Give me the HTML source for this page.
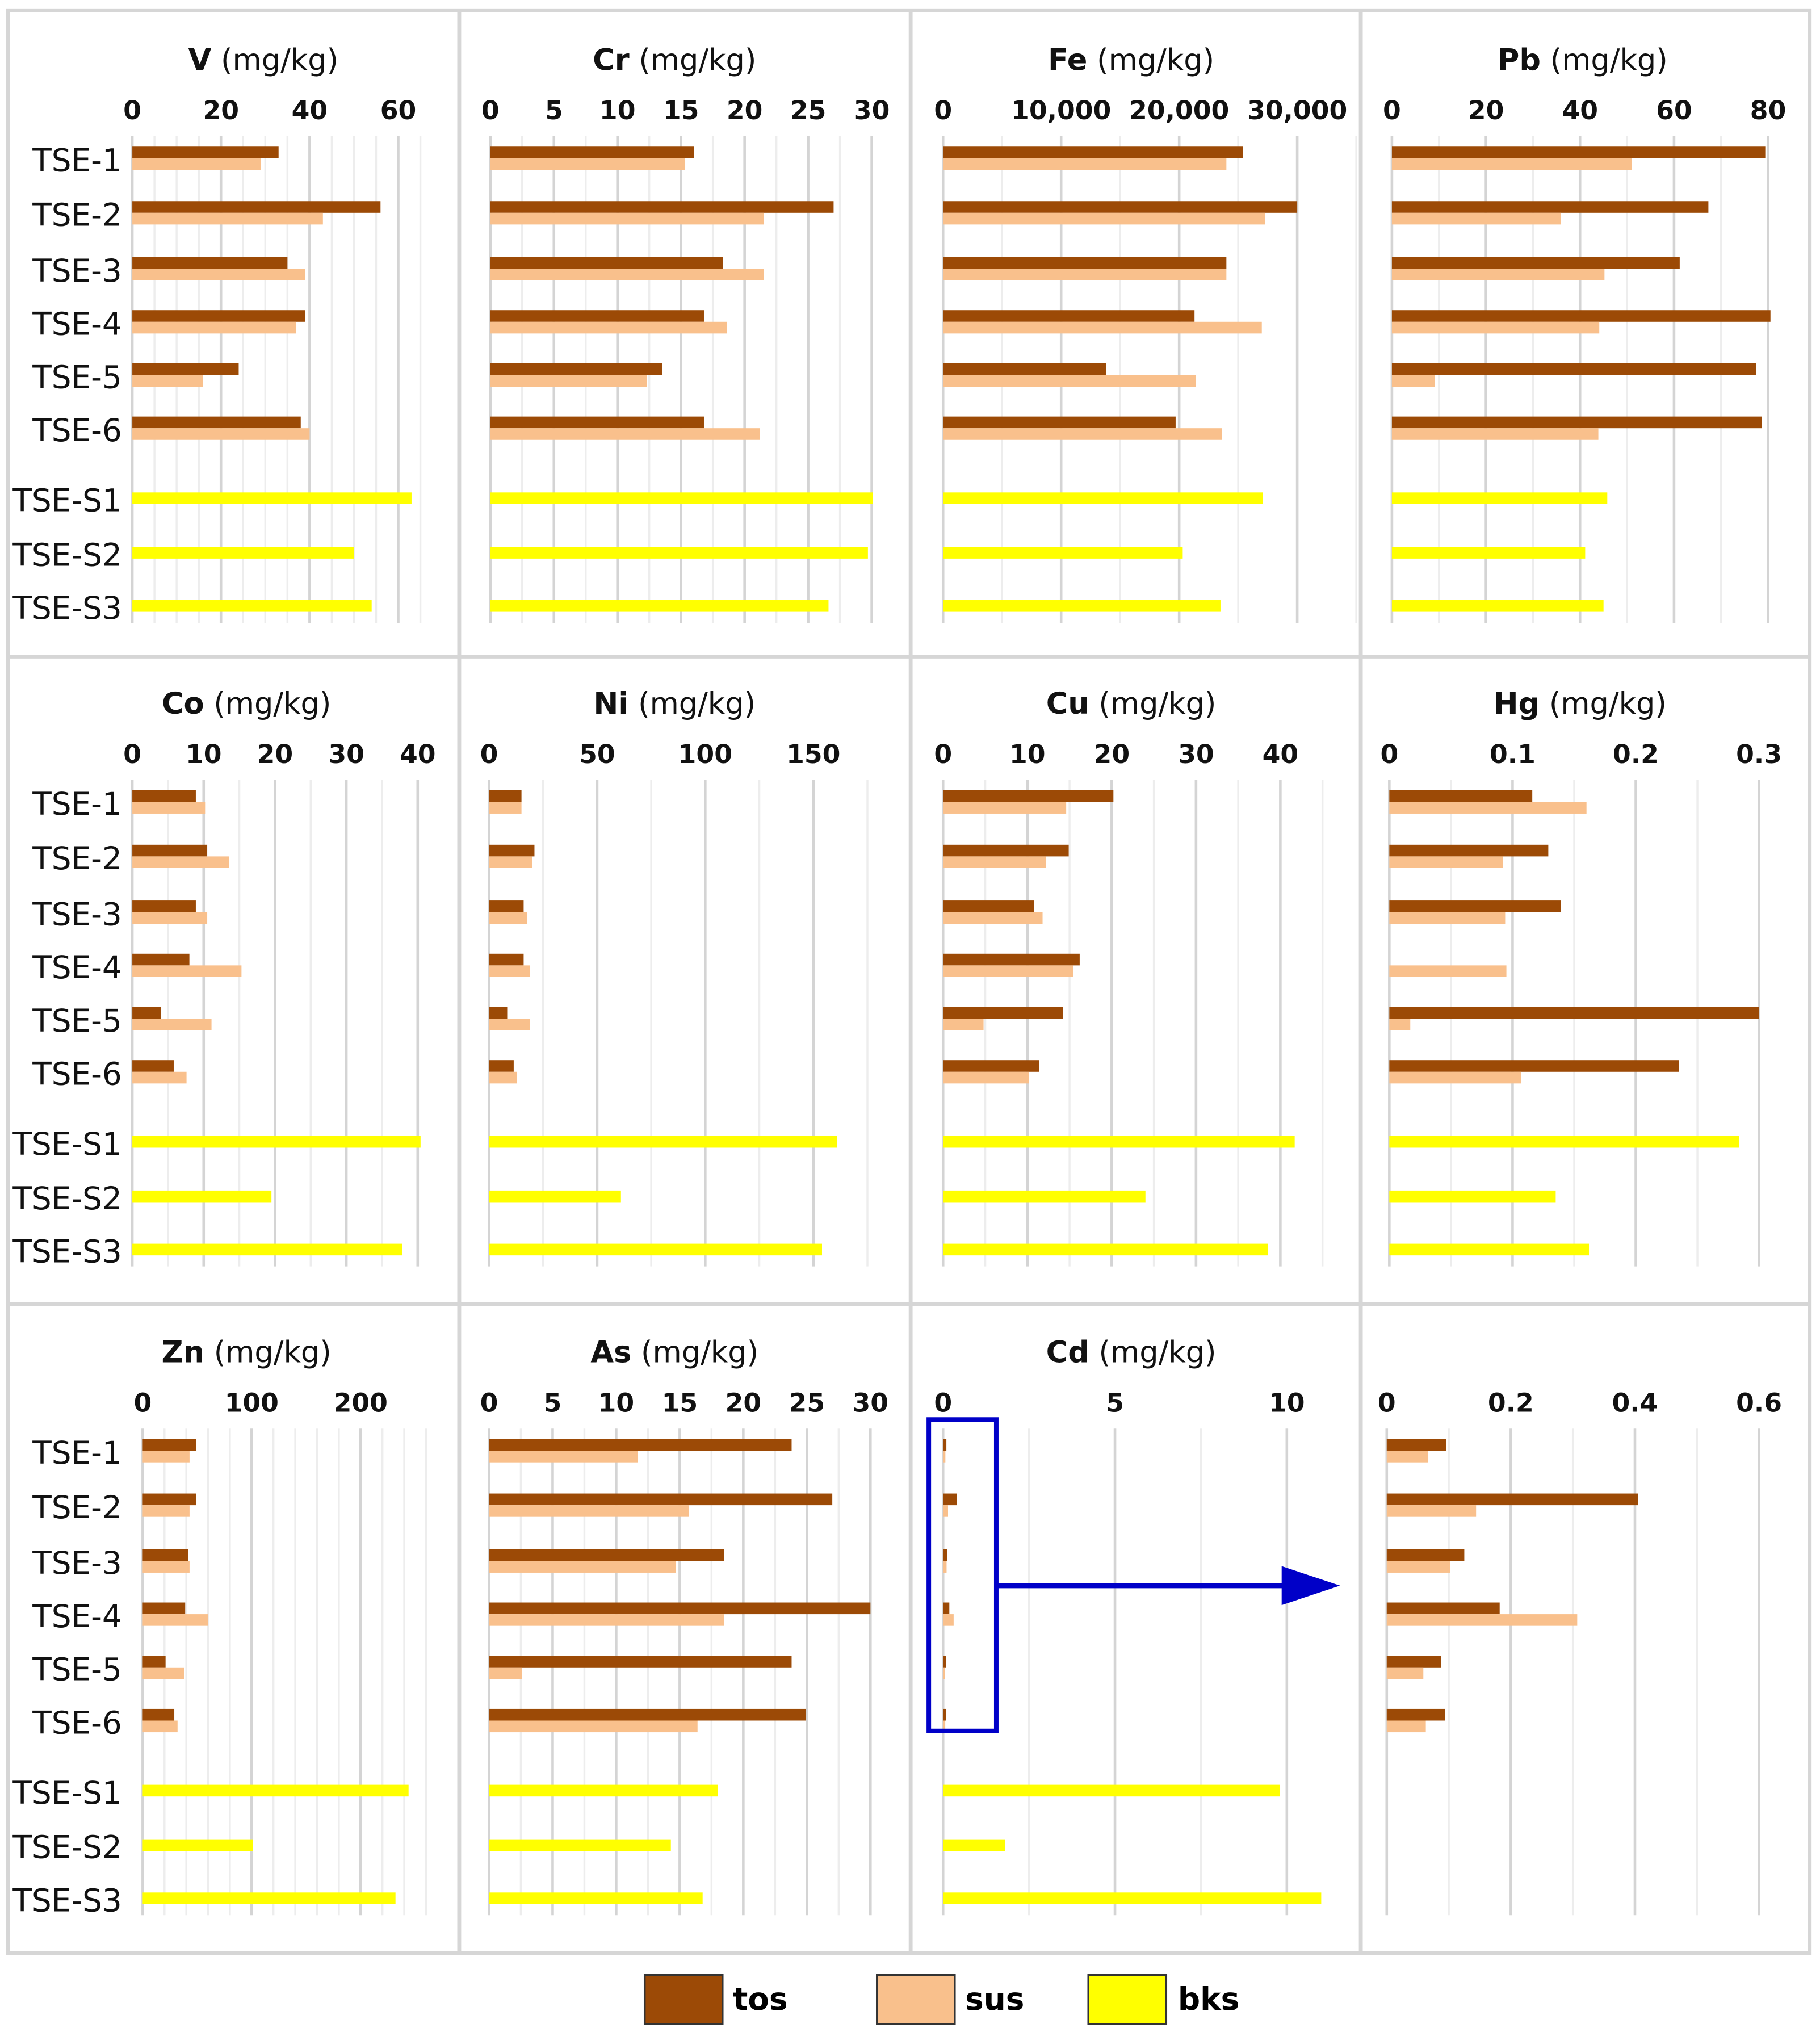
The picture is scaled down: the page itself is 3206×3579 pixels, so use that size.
<!DOCTYPE html>
<html><head><meta charset="utf-8"><style>
html,body{margin:0;padding:0;background:#fff}
svg{display:block}
text{font-family:"DejaVu Sans","Liberation Sans",sans-serif}
</style></head><body>
<svg id="chart" width="3206" height="3579" viewBox="0 0 1403 1566" preserveAspectRatio="none" xmlns="http://www.w3.org/2000/svg">
<g id="frame" stroke="#d6d6d6" stroke-width="3" fill="none">
<rect x="6" y="8" width="1389" height="1497"/>
<line x1="354" y1="8" x2="354" y2="1505"/><line x1="702" y1="8" x2="702" y2="1505"/><line x1="1049" y1="8" x2="1049" y2="1505"/>
<line x1="6" y1="506" x2="1395" y2="506"/><line x1="6" y1="1005" x2="1395" y2="1005"/>
</g>
<g id="plots"></g>
<g>
<rect x="716" y="1094" width="52" height="240" fill="none" stroke="#0000c8" stroke-width="3.5"/>
<line x1="768" y1="1222" x2="992" y2="1222" stroke="#0000c8" stroke-width="4"/>
<polygon points="988,1207 1033,1222 988,1237" fill="#0000c8"/>
</g>
<g>
<rect x="497" y="1522" width="60" height="38" fill="#9c4a06" stroke="#333" stroke-width="1.5"/>
<text x="565" y="1549" font-size="24" font-weight="bold">tos</text>
<rect x="676" y="1522" width="60" height="38" fill="#f9c08c" stroke="#333" stroke-width="1.5"/>
<text x="744" y="1549" font-size="24" font-weight="bold">sus</text>
<rect x="839" y="1522" width="60" height="38" fill="#ffff00" stroke="#333" stroke-width="1.5"/>
<text x="908" y="1549" font-size="24" font-weight="bold">bks</text>
</g>
</svg>
<script>
const categories = ["TSE-1","TSE-2","TSE-3","TSE-4","TSE-5","TSE-6","TSE-S1","TSE-S2","TSE-S3"];
const vTos=[33,56,35,39,24,38], vSus=[29,43,39,37,16,40], vBks=[63,50,54];
const crTos=[16,27,18.3,16.8,13.5,16.8], crSus=[15.3,21.5,21.5,18.6,12.3,21.2], crBks=[30.1,29.7,26.6];
const feTos=[25400,30000,24000,21300,13800,19700], feSus=[24000,27300,24000,27000,21400,23600], feBks=[27100,20300,23500];
const pbTos=[79.4,67.3,61.2,80.5,77.5,78.6], pbSus=[51,35.9,45.2,44.1,9.1,43.9], pbBks=[45.8,41.1,45];
const coTos=[8.9,10.5,8.9,8,4,5.8], coSus=[10.2,13.6,10.5,15.3,11.1,7.6], coBks=[40.4,19.5,37.8];
const niTos=[15,21,16,16,8.4,11.4], niSus=[15,20,17.5,19,19,13], niBks=[161,61,154];
const cuTos=[20.2,14.9,10.8,16.2,14.2,11.4], cuSus=[14.6,12.2,11.8,15.4,4.8,10.2], cuBks=[41.7,24,38.5];
const hgTos=[0.116,0.129,0.139,0,0.3,0.235], hgSus=[0.16,0.092,0.094,0.095,0.017,0.107], hgBks=[0.284,0.135,0.162];
const znTos=[49,49,42,39,21,29], znSus=[43,43,43,60,38,32], znBks=[244,101,232];
const asTos=[23.8,27,18.5,30,23.8,24.9], asSus=[11.7,15.7,14.7,18.5,2.6,16.4], asBks=[18,14.3,16.8];
const cdTos=[0.096,0.405,0.125,0.182,0.088,0.094], cdSus=[0.067,0.144,0.102,0.307,0.059,0.063], cdBks=[9.8,1.8,11.0];
const vTicks=[0,20,40,60], crTicks=[0,5,10,15,20,25,30], feTicks=[0,10000,20000,30000], pbTicks=[0,20,40,60,80];
const coTicks=[0,10,20,30,40], niTicks=[0,50,100,150], cuTicks=[0,10,20,30,40], hgTicks=[0,0.1,0.2,0.3];
const znTicks=[0,100,200], asTicks=[0,5,10,15,20,25,30], cdTicks=[0,5,10], insetTicks=[0,0.2,0.4,0.6];

const NS="http://www.w3.org/2000/svg";
const root=document.getElementById('plots');
function mk(tag,attrs,parent){const e=document.createElementNS(NS,tag);for(const k in attrs)e.setAttribute(k,attrs[k]);parent.appendChild(e);return e;}
const centers=[122,164,207,248,289,330,384,426,467];
const rowOff=[0,496,996];
const panels=[
 {id:"v",el:"V",row:0,x0:102,x1:307,max:60,ticks:vTicks,minor:5,gmax:65,tos:vTos,sus:vSus,bks:vBks,tx:203},
 {id:"cr",el:"Cr",row:0,x0:378,x1:672,max:30,ticks:crTicks,minor:2.5,gmax:30,tos:crTos,sus:crSus,bks:crBks,tx:520},
 {id:"fe",el:"Fe",row:0,x0:727,x1:1000,max:30000,ticks:feTicks,minor:5000,gmax:32500,tos:feTos,sus:feSus,bks:feBks,tx:872,fmt:v=>v.toLocaleString('en-US')},
 {id:"pb",el:"Pb",row:0,x0:1073,x1:1363,max:80,ticks:pbTicks,minor:10,gmax:80,tos:pbTos,sus:pbSus,bks:pbBks,tx:1220},
 {id:"co",el:"Co",row:1,x0:102,x1:322,max:40,ticks:coTicks,minor:5,gmax:40,tos:coTos,sus:coSus,bks:coBks,tx:190},
 {id:"ni",el:"Ni",row:1,x0:377,x1:627,max:150,ticks:niTicks,minor:25,gmax:175,tos:niTos,sus:niSus,bks:niBks,tx:520},
 {id:"cu",el:"Cu",row:1,x0:727,x1:987,max:40,ticks:cuTicks,minor:5,gmax:45,tos:cuTos,sus:cuSus,bks:cuBks,tx:872},
 {id:"hg",el:"Hg",row:1,x0:1071,x1:1356,max:0.3,ticks:hgTicks,minor:0.05,gmax:0.3,tos:hgTos,sus:hgSus,bks:hgBks,tx:1218},
 {id:"zn",el:"Zn",row:2,x0:110,x1:278,max:200,ticks:znTicks,minor:20,gmax:260,tos:znTos,sus:znSus,bks:znBks,tx:190},
 {id:"as",el:"As",row:2,x0:377,x1:671,max:30,ticks:asTicks,minor:2.5,gmax:30,tos:asTos,sus:asSus,bks:asBks,tx:520},
 {id:"cd",el:"Cd",row:2,x0:727,x1:992,max:10,ticks:cdTicks,minor:2.5,gmax:11,tos:cdTos,sus:cdSus,bks:cdBks,tx:872},
 {id:"cd-inset",el:null,row:2,x0:1069,x1:1356,max:0.6,ticks:insetTicks,minor:0.1,gmax:0.6,tos:cdTos,sus:cdSus,bks:null,tx:1218}
];
panels.forEach(p=>{
 const g=mk('g',{},root);
 
 
 const off=rowOff[p.row];
 const sx=v=>p.x0+(v/p.max)*(p.x1-p.x0);
 const yTop=105+off, yBot=480+off;
 const n=Math.round(p.gmax/p.minor);
 for(let i=0;i<=n;i++){
  const v=i*p.minor;
  const major=p.ticks.some(t=>Math.abs(t-v)<1e-9);
  const l=mk('line',{x1:sx(v),x2:sx(v),y1:yTop,y2:yBot,stroke:major?'#d4d4d4':'#ededed','stroke-width':major?2:1.5},g);
  
  
 }
 p.ticks.forEach(t=>{
  const tl=mk('text',{x:sx(t),y:92+off,'text-anchor':'middle','font-size':20,'font-weight':'bold',fill:'#111'},g);
  tl.textContent=p.fmt?p.fmt(t):String(t);
  
  
 });
 if(p.el){
  const tt=mk('text',{x:p.tx,y:54+off,'text-anchor':'middle','font-size':23,fill:'#111'},g);
  
  
  const b=mk('tspan',{'font-weight':'bold'},tt);b.textContent=p.el;
  const s=mk('tspan',{},tt);s.textContent=' (mg/kg)';
 }
 for(let i=0;i<6;i++){
  const c=centers[i]+off;
  const r1=mk('rect',{x:p.x0,y:c-9,width:Math.max(0,sx(p.tos[i])-p.x0),height:9,fill:'#9c4a06'},g);
  
  
  const r2=mk('rect',{x:p.x0,y:c,width:Math.max(0,sx(p.sus[i])-p.x0),height:9,fill:'#f9c08c'},g);
  
  
 }
 if(p.bks){
  for(let j=0;j<3;j++){
   const c=centers[6+j]+off;
   const r=mk('rect',{x:p.x0,y:c-4.5,width:sx(p.bks[j])-p.x0,height:9,fill:'#ffff00'},g);
   
   
  }
 }
 if(p.x0<200){
  categories.forEach((cat,i)=>{
   const t=mk('text',{x:94,y:centers[i]+off+10,'text-anchor':'end','font-size':24,fill:'#111'},g);
   t.textContent=cat;
   
   
  });
 }
});
</script>
</body></html>
